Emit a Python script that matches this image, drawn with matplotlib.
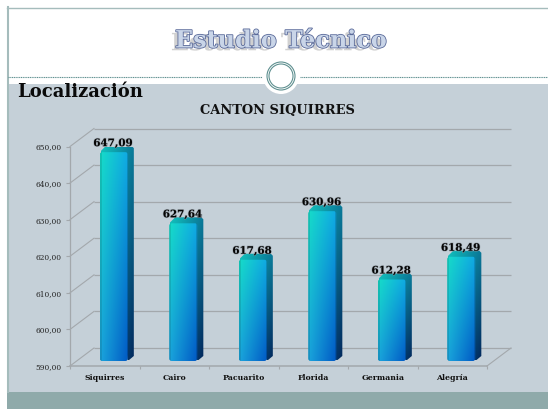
import numpy as np
import matplotlib
matplotlib.use('Agg')
import matplotlib.pyplot as plt
import matplotlib.patheffects as pe
from matplotlib.patches import Rectangle, Circle, Polygon, FancyBboxPatch
from matplotlib.transforms import IdentityTransform, Affine2D

categories = ['Siquirres', 'Cairo', 'Pacuarito', 'Florida', 'Germania', 'Alegría']
values = [647.09, 627.64, 617.68, 630.96, 612.28, 618.49]
value_labels = ['647,09', '627,64', '617,68', '630,96', '612,28', '618,49']
y_ticks = [590, 600, 610, 620, 630, 640, 650]
y_labels = ['590,00', '600,00', '610,00', '620,00', '630,00', '640,00', '650,00']

W, H = 548, 409
SERIF = 'DejaVu Serif'


def gradient(c0, c1, c2, c3, ny=60, nx=30):
    # corners: top left, top right, bottom left, bottom right
    c0, c1, c2, c3 = [np.array(matplotlib.colors.to_rgb(c)) for c in (c0, c1, c2, c3)]
    tx = np.linspace(0, 1, nx)[None, :, None]
    ty = np.linspace(0, 1, ny)[:, None, None]
    top = c0 * (1 - tx) + c1 * tx
    bot = c2 * (1 - tx) + c3 * tx
    return top * (1 - ty) + bot * ty


fig = plt.figure(figsize=(W / 100, H / 100), dpi=100, facecolor='white')

# slide furniture, in pixels from the top left
bg = fig.add_axes([0, 0, 1, 1])
bg.set_xlim(0, W)
bg.set_ylim(H, 0)
bg.axis('off')
bg.add_patch(Rectangle((7, 83.5), W, 308.5, fc='#c5d0d8', ec='none'))
bg.add_patch(Rectangle((7, 392), W, 17, fc='#8faaaa', ec='none'))
bg.plot([7.5, 7.5], [7, 392], color='#a5bcbc', lw=1.5)
bg.plot([7, W], [7.5, 7.5], color='#a5bcbc', lw=1)
bg.plot([8, 262], [76.5, 76.5], color='#5f9090', lw=0.8, ls=(0, (1, 0.6)))
bg.plot([300, W], [76.5, 76.5], color='#5f9090', lw=0.8, ls=(0, (1, 0.6)))
bg.add_patch(Circle((281, 76), 18, fc='white', ec='none'))
bg.add_patch(Circle((281, 76), 14, fc='white', ec='#5f9090', lw=0.8))
bg.add_patch(Circle((281, 76), 12, fc='white', ec='#5f9090', lw=0.8))

bg.text(281, 40.5, 'Estudio Técnico', family=SERIF, weight='bold', fontsize=17.2,
        ha='center', va='center', color='#c9d5e8',
        path_effects=[pe.SimplePatchShadow(offset=(-3, -2), shadow_rgbFace='#8c8c8c', alpha=0.4),
                      pe.withStroke(linewidth=1.2, foreground='#5a6a9a')])
bg.text(17, 92, 'Localización', family=SERIF, weight='bold', fontsize=13,
        ha='left', va='center', color='#0a0a0a')
bg.text(277, 110, 'CANTON SIQUIRRES', family=SERIF, weight='bold', fontsize=9.4,
        ha='center', va='center', color='#111111')

# chart: axes box is the front plane of the 3d frame
ax = fig.add_axes([70 / W, (H - 366) / H, 417 / W, 219.5 / H])
ax.patch.set_alpha(0)
ax.set_xlim(-0.5, len(categories) - 0.5)
ax.set_ylim(590, 650)
for s in ax.spines.values():
    s.set_visible(False)

FRAME = '#a3a8ac'
to_px = ax.transData.transform
WALL = (24, 18)   # depth of the frame, display pixels
BAR = (9, 5)      # where the bars stand in that depth
DEPTH = (6, 6)    # depth of a bar
ident = IdentityTransform()

xmin, xmax = -0.5, len(categories) - 0.5
wall_tr = ax.transData + Affine2D().translate(*WALL)
ax.hlines(y_ticks, xmin, xmax, color=FRAME, lw=0.9, transform=wall_tr, clip_on=False, zorder=1)
for t in y_ticks:
    p = to_px((xmin, t))
    ax.plot([p[0], p[0] + WALL[0]], [p[1], p[1] + WALL[1]], color=FRAME, lw=0.8,
            transform=ident, clip_on=False, zorder=1)
p = to_px((xmax, 590))
ax.plot([p[0], p[0] + WALL[0]], [p[1], p[1] + WALL[1]], color=FRAME, lw=0.8,
        transform=ident, clip_on=False, zorder=1)
ax.plot([xmin, xmax], [590, 590], color=FRAME, lw=1.1, clip_on=False, zorder=1)
ax.plot([xmin, xmin], [590, 650], color=FRAME, lw=0.9, clip_on=False, zorder=1)

ax.set_yticks(y_ticks)
ax.set_yticklabels(y_labels, family=SERIF, fontsize=5.3, color='#222222')
ax.set_xticks(np.arange(-0.5, len(categories)), minor=True)
ax.set_xticks(range(len(categories)))
ax.set_xticklabels(categories, family=SERIF, weight='bold', fontsize=5.6, color='#111111')
ax.tick_params(axis='y', length=3, color=FRAME, width=0.8, pad=3)
ax.tick_params(axis='x', which='major', length=0, pad=5.5)
ax.tick_params(axis='x', which='minor', length=2.5, color=FRAME, width=0.8)

bar_tr = ax.transData + Affine2D().translate(*BAR)
bars = ax.bar(range(len(categories)), np.array(values) - 590, bottom=590, width=0.405,
              transform=bar_tr, color='none', ec='none', clip_on=False, zorder=3)

for rect, val, lab in zip(bars, values, value_labels):
    x0, x1 = rect.get_x(), rect.get_x() + rect.get_width()
    bl = bar_tr.transform((x0, 590))
    tr = bar_tr.transform((x1, val))
    dx, dy = DEPTH

    # back silhouette: top and side share a rounded outline behind the front face
    back = gradient('#12c0bc', '#0a7898', '#0a6a98', '#02285c')
    im_back = ax.imshow(back, extent=(bl[0] + 1, tr[0] + dx, bl[1] + 1, tr[1] + dy), transform=ident,
                        aspect='auto', zorder=3, origin='upper', interpolation='bilinear')
    im_back.set_clip_path(Polygon([(tr[0], bl[1]), (tr[0] + dx, bl[1] + dy - 1),
                                   (tr[0] + dx, tr[1] + dy - 2), (tr[0] + dx - 2, tr[1] + dy),
                                   (bl[0] + dx, tr[1] + dy), (bl[0], tr[1])], transform=ident))

    # front face, darker at both rims
    front = gradient('#16dcc8', '#10a8e4', '#1aa4dc', '#0058c4')
    front[:, :2] *= 0.88
    front[:, -2:] *= 0.85
    im = ax.imshow(front, extent=(bl[0], tr[0], bl[1], tr[1]), transform=ident,
                   aspect='auto', zorder=4, origin='upper', interpolation='bilinear')
    im.set_clip_path(FancyBboxPatch((bl[0] + 2.5, bl[1] + 2.5), tr[0] - bl[0] - 5, tr[1] - bl[1] - 5,
                                    boxstyle='round,pad=2.5,rounding_size=2.5', transform=ident))

    ax.annotate(lab, xy=(tr[0] - 15, tr[1] + 8.5), xycoords=ident, ha='center', va='center',
                family=SERIF, weight='bold', fontsize=7.4, color='#050505', zorder=6,
                annotation_clip=False,
                path_effects=[pe.withStroke(linewidth=1.0, foreground='#8a949c', alpha=0.6)])

ax.set_xlim(xmin, xmax)
ax.set_ylim(590, 650)

fig.savefig('out.png', dpi=100)
